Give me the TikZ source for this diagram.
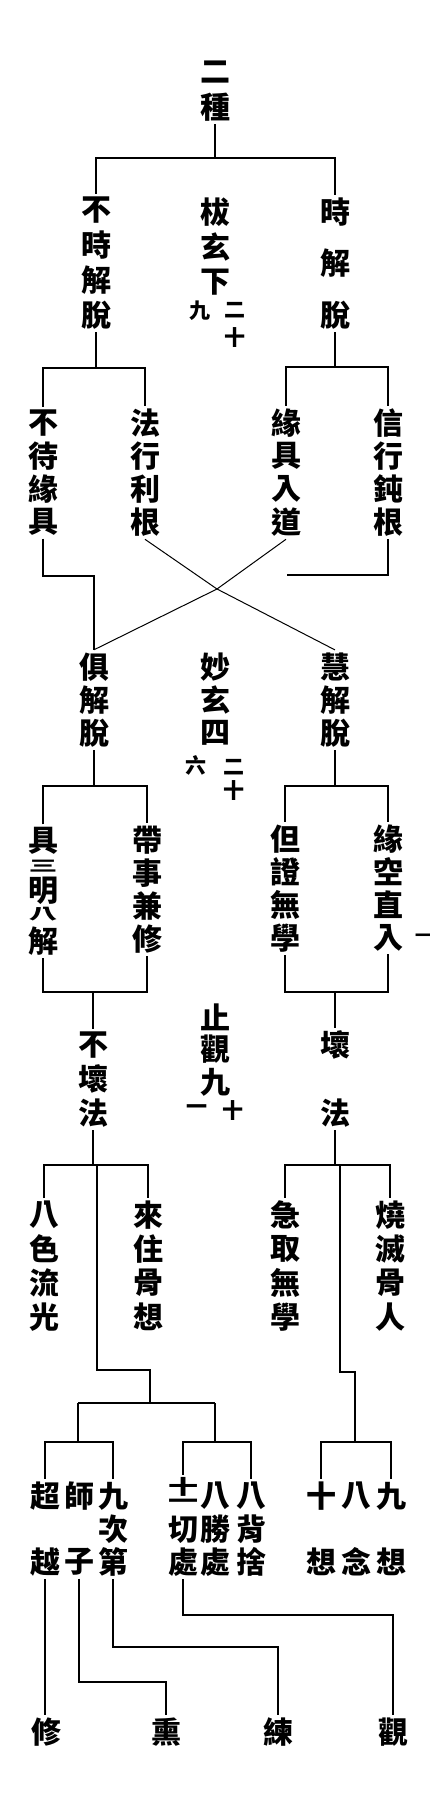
\documentclass[tikz,border=0pt]{standalone}
\usepackage{fontspec}
\newfontfamily\cjk{Noto Sans CJK TC}
\newfontfamily\cjkw{Noto Sans CJK TC}[FakeStretch=1.5]
\newfontfamily\cjkww{Noto Sans CJK TC}[FakeStretch=1.9]
\usetikzlibrary{calc}
\tikzset{
  ch/.style={font=\cjk\bfseries\fontsize{30}{30}\selectfont, inner sep=0pt, outer sep=3pt},
  flat/.style={font=\cjkww\bfseries\fontsize{15}{15}\selectfont, inner sep=0pt},
  nt/.style={font=\cjk\bfseries\fontsize{21}{21}\selectfont, inner sep=0pt},
  ln/.style={line width=1.8pt},
  xl/.style={line width=1pt},
}
\newcommand\vcol[5]{\foreach \cc [count=\ii] in {#5}{\node[ch] (#1-\ii) at ({#2},{#3+(\ii-1)*(#4)}) {\cc};}}
\begin{document}
\begin{tikzpicture}[x=1pt,y=-1pt]
\fill[white] (0,0) rectangle (430,1810);
\useasboundingbox (0,0) rectangle (430,1810);

% ---- texts ----
\vcol{t0}{215}{72}{35}{二,種}
\vcol{a1}{96}{210}{35}{不,時,解,脫}
\vcol{a2}{215}{212}{35}{柭,玄,下}
\node[nt] (a2n1) at (235,310) {二};
\node[nt] (a2n2) at (235,338) {十};
\node[nt] (a2n3) at (200,311) {九};
\vcol{a3}{335}{212}{51.5}{時,解,脫}

\vcol{b1}{43}{423}{33}{不,待,緣,具}
\vcol{b2}{145}{423}{33}{法,行,利,根}
\vcol{b3}{286}{423}{33}{緣,具,入,道}
\vcol{b4}{388}{423}{33}{信,行,鈍,根}

\vcol{c1}{94}{667}{33}{俱,解,脫}
\vcol{c2}{215}{667}{33}{妙,玄,四}
\node[nt] (c2n1) at (234,767) {二};
\node[nt] (c2n2) at (234,791) {十};
\node[nt] (c2n3) at (196,765) {六};
\vcol{c3}{335}{667}{33}{慧,解,脫}

\node[ch] (d1-1) at (43,841) {具};
\node[flat] (d1-2) at (43,866) {三};
\node[ch] (d1-3) at (43,891) {明};
\node[flat] (d1-4) at (43,914) {八};
\node[ch] (d1-5) at (43,941) {解};
\vcol{d2}{147}{840}{33}{帶,事,兼,修}
\vcol{d3}{285}{839}{33}{但,證,無,學}
\vcol{d4}{388}{839}{33}{緣,空,直,入}
\node[nt, font=\cjk\bfseries\fontsize{16}{16}\selectfont] (stray) at (423,938) {一};

\vcol{e1}{93}{1045}{34}{不,壞,法}
\vcol{e2}{215}{1017}{32.5}{止,觀,九}
\node[nt] (e2n1) at (233,1111) {十};
\node[nt] (e2n2) at (197,1110) {一};
\vcol{e3}{335}{1045}{68}{壞,法}

\vcol{f1}{44}{1215}{34}{八,色,流,光}
\vcol{f2}{148}{1215}{34}{來,住,骨,想}
\vcol{f3}{285}{1215}{34}{急,取,無,學}
\vcol{f4}{390}{1215}{34}{燒,滅,骨,人}

\vcol{g1}{45}{1496}{66}{超,越}
\vcol{g2}{79}{1496}{66}{師,子}
\vcol{g3}{113}{1496}{33}{九,次,第}
\node[ch, font=\cjkw\bfseries\fontsize{20}{20}\selectfont] (g4-1) at (183,1493) {\vbox{\offinterlineskip\hbox{十}\kern2.5pt\hbox{一}}};
\node[ch] (g4-2) at (183,1530) {切};
\node[ch] (g4-3) at (183,1562) {處};
\vcol{g5}{215}{1496}{33}{八,勝,處}
\vcol{g6}{251}{1496}{33}{八,背,捨}
\vcol{g7}{321}{1496}{66}{十,想}
\vcol{g8}{356}{1496}{66}{八,念}
\vcol{g9}{391}{1496}{66}{九,想}

\node[ch] (h1) at (46,1732) {修};
\node[ch] (h2) at (166,1732) {熏};
\node[ch] (h3) at (278,1732) {練};
\node[ch] (h4) at (393,1732) {觀};

% ---- connectors ----
\coordinate (k0) at (215,158);
\draw[ln] (t0-2.south) -- (k0);
\draw[ln] (a1-1.north) -- (a1-1.north |- k0) -- (a3-1.north |- k0) -- (a3-1.north);

\coordinate (k1) at (96,368);
\draw[ln] (a1-4.south) -- (k1);
\draw[ln] (b1-1.north) -- (b1-1.north |- k1) -- (b2-1.north |- k1) -- (b2-1.north);
\coordinate (k2) at (335,367);
\draw[ln] (a3-3.south) -- (k2);
\draw[ln] (b3-1.north) -- (b3-1.north |- k2) -- (b4-1.north |- k2) -- (b4-1.north);

\coordinate (k3) at (94,576);
\draw[ln] (b1-4.south) -- (b1-4.south |- k3) -- (k3) -- (c1-1.north);
\coordinate (k4) at (287,575);
\draw[ln] (b4-4.south) -- (b4-4.south |- k4) -- (k4);

\coordinate (X) at (217,589);
\draw[xl] (b2-4.south) -- (X) -- (c3-1.north);
\draw[xl] (b3-4.south) -- (X) -- (c1-1.north);

\coordinate (k5) at (94,786);
\draw[ln] (c1-3.south) -- (k5);
\draw[ln] (d1-1.north) -- (d1-1.north |- k5) -- (d2-1.north |- k5) -- (d2-1.north);
\coordinate (k6) at (335,786);
\draw[ln] (c3-3.south) -- (k6);
\draw[ln] (d3-1.north) -- (d3-1.north |- k6) -- (d4-1.north |- k6) -- (d4-1.north);

\coordinate (k7) at (93,992);
\draw[ln] (d1-5.south) -- (d1-5.south |- k7) -- (d2-4.south |- k7) -- (d2-4.south);
\draw[ln] (k7) -- (e1-1.north);
\coordinate (k8) at (335,992);
\draw[ln] (d3-4.south) -- (d3-4.south |- k8) -- (d4-4.south |- k8) -- (d4-4.south);
\draw[ln] (k8) -- (e3-1.north);

\coordinate (k9) at (93,1165);
\draw[ln] (e1-3.south) -- (k9);
\draw[ln] (f1-1.north) -- (f1-1.north |- k9) -- (f2-1.north |- k9) -- (f2-1.north);
\coordinate (k10) at (97,1370);
\coordinate (k11) at (150,1403);
\draw[ln] (k9 -| k10) -- (k10) -- (k10 -| k11) -- (k11);
\coordinate (k12) at (78,1442);
\coordinate (k13) at (215,1442);
\draw[ln] (k11 -| k12) -- (k11 -| k13);
\draw[ln] (k11 -| k12) -- (k12);
\draw[ln] (k11 -| k13) -- (k13);
\draw[ln] (g1-1.north) -- (g1-1.north |- k12) -- (g3-1.north |- k12) -- (g3-1.north);
\draw[ln] (g4-1.north) -- (g4-1.north |- k13) -- (g6-1.north |- k13) -- (g6-1.north);

\coordinate (k14) at (335,1165);
\draw[ln] (e3-2.south) -- (k14);
\draw[ln] (f3-1.north) -- (f3-1.north |- k14) -- (f4-1.north |- k14) -- (f4-1.north);
\coordinate (k15) at (340,1372);
\coordinate (k16) at (355,1442);
\draw[ln] (k14 -| k15) -- (k15) -- (k15 -| k16) -- (k16);
\draw[ln] (g7-1.north) -- (g7-1.north |- k16) -- (g9-1.north |- k16) -- (g9-1.north);

\draw[ln] (g1-2.south) -- (g1-2.south |- h1.north);
\coordinate (k17) at (0,1682);
\draw[ln] (g2-2.south) -- (g2-2.south |- k17) -- (h2.north |- k17) -- (h2.north);
\coordinate (k18) at (0,1647);
\draw[ln] (g3-3.south) -- (g3-3.south |- k18) -- (h3.north |- k18) -- (h3.north);
\coordinate (k19) at (0,1615);
\draw[ln] (g4-3.south) -- (g4-3.south |- k19) -- (h4.north |- k19) -- (h4.north);
\end{tikzpicture}
\end{document}
